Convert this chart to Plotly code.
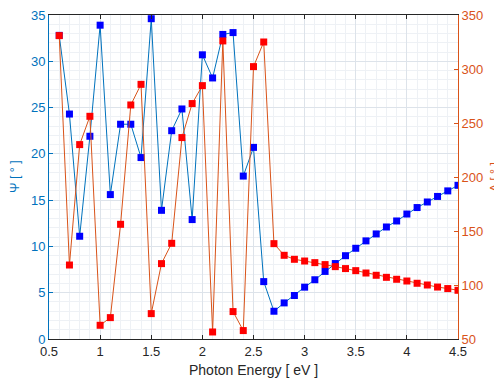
import plotly.graph_objects as go

energy = [round(0.6 + 0.1 * i, 1) for i in range(40)]

psi = [32.8, 24.3, 11.1, 21.9, 33.9, 15.6, 23.2, 23.2, 19.6, 34.6,
       13.9, 22.5, 24.85, 12.9, 30.7, 28.2, 32.9, 33.1, 17.6, 20.7,
       6.2, 3.0, 3.9, 4.7, 5.6, 6.4, 7.3, 8.15, 9.0, 9.8,
       10.6, 11.35, 12.1, 12.75, 13.5, 14.2, 14.8, 15.4, 16.0, 16.6]

delta = [330.9, 118.5, 230.0, 256.2, 62.7, 69.8, 156.2, 266.7, 285.8, 73.5,
         119.8, 138.6, 236.5, 268.0, 284.6, 56.5, 326.0, 75.4, 57.8, 302.2,
         325.0, 138.3, 127.5, 123.8, 122.2, 120.7, 118.9, 117.0, 115.2, 113.3,
         111.1, 109.0, 107.1, 105.3, 103.7, 101.6, 100.0, 98.1, 96.7, 95.1]

x_ticks = [0.5, 1, 1.5, 2, 2.5, 3, 3.5, 4, 4.5]
x_labels = ["0.5", "1", "1.5", "2", "2.5", "3", "3.5", "4", "4.5"]

x_title = "Photon Energy [ eV ]"
psi_title = "Ψ [ ° ]"
delta_title = "Δ [ ° ]"

BLUE_AX = "#0072BD"
RED_AX = "#D95319"
DARK = "#262626"
FONT = "Liberation Sans, Arial, sans-serif"

fig = go.Figure()
fig.add_trace(go.Scatter(
    x=energy, y=psi, mode="lines+markers", name="Ψ",
    line=dict(color=BLUE_AX, width=1),
    marker=dict(symbol="square", size=7, color="#0000FF"),
    yaxis="y"))
fig.add_trace(go.Scatter(
    x=energy, y=delta, mode="lines+markers", name="Δ",
    line=dict(color=RED_AX, width=1),
    marker=dict(symbol="square", size=7, color="#FF0000"),
    yaxis="y2"))

# page body has an 8px default margin, so the figure is shrunk to fit the window
fig.update_layout(
    width=494, height=373,
    margin=dict(l=41, r=44, t=7, b=42, autoexpand=False),
    paper_bgcolor="white", plot_bgcolor="white",
    showlegend=False,
    font=dict(family=FONT, size=13, color=DARK),
    xaxis=dict(
        range=[0.5, 4.5], tickvals=x_ticks, ticktext=x_labels,
        showgrid=True, gridcolor="#dde3ea", gridwidth=1,
        minor=dict(dtick=0.1, showgrid=True, gridcolor="#eef1f5", gridwidth=1),
        showline=True, linecolor=DARK, linewidth=1, mirror="ticks",
        ticks="inside", ticklen=4, tickcolor=DARK,
        zeroline=False, automargin=False, ticklabeloverflow="allow",
        tickfont=dict(size=13, color=DARK),
    ),
    yaxis=dict(
        range=[0, 35], dtick=5,
        showgrid=True, gridcolor="#dde3ea", gridwidth=1,
        minor=dict(dtick=1, showgrid=True, gridcolor="#eef1f5", gridwidth=1),
        showline=True, linecolor=BLUE_AX, linewidth=1,
        ticks="inside", ticklen=4, tickcolor=BLUE_AX,
        zeroline=False, automargin=False, ticklabeloverflow="allow",
        tickfont=dict(size=13, color=BLUE_AX),
    ),
    yaxis2=dict(
        range=[50, 350], dtick=50, overlaying="y", side="right",
        showgrid=False,
        showline=True, linecolor=RED_AX, linewidth=1,
        ticks="inside", ticklen=4, tickcolor=RED_AX,
        zeroline=False, automargin=False, ticklabeloverflow="allow",
        tickfont=dict(size=13, color=RED_AX),
    ),
    annotations=[
        dict(text=x_title, xref="paper", yref="paper", x=0.5, y=0,
             yshift=-31, xanchor="center", yanchor="middle", showarrow=False,
             font=dict(size=14, color=DARK)),
        dict(text=psi_title, xref="paper", yref="paper", x=0, y=0.5,
             xshift=-34, xanchor="center", yanchor="middle", showarrow=False,
             textangle=-90, font=dict(size=12.5, color=BLUE_AX)),
        dict(text=delta_title, xref="paper", yref="paper", x=1, y=0.5,
             xshift=37, xanchor="center", yanchor="middle", showarrow=False,
             textangle=-90, font=dict(size=12.5, color=RED_AX)),
    ],
)

fig.write_html("out.html")
